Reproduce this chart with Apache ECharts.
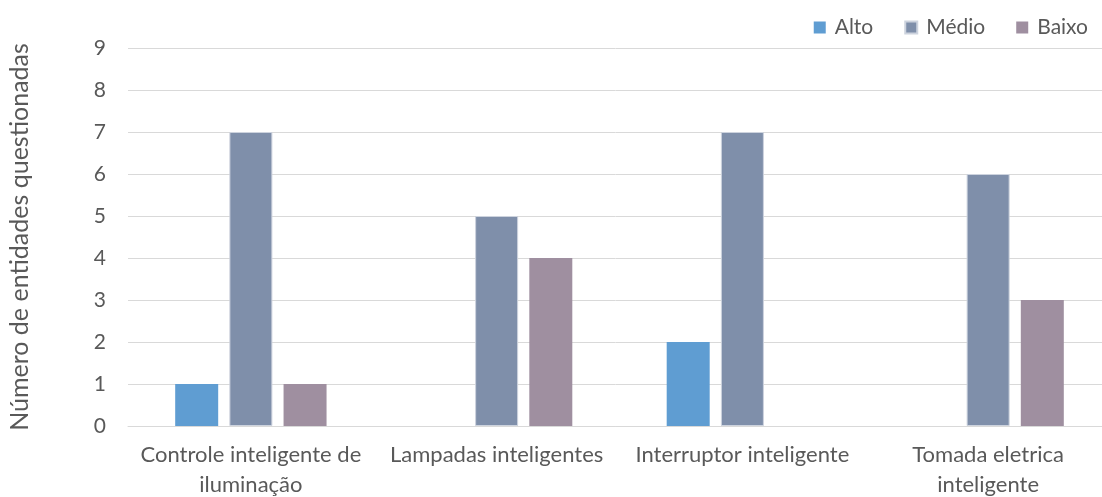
<!DOCTYPE html>
<html>
<head>
<meta charset="utf-8">
<script src="https://cdn.jsdelivr.net/npm/echarts@6/dist/echarts.min.js"></script>
<style>
  html, body { margin: 0; padding: 0; background: #fff; }
  #chart { width: 1102px; height: 497px; }
</style>
</head>
<body>
<div id="chart"></div>
<script>
const categorias = ['Controle inteligente de\niluminação', 'Lampadas inteligentes', 'Interruptor inteligente', 'Tomada eletrica\ninteligente'];
const alto = [1, null, 2, null];
const medio = [7, 5, 7, 6];
const baixo = [1, 4, null, 3];
const yTicks = [0, 9, 1]; // min, max, intervalo

const fonte = 'Lato, "Open Sans", sans-serif';
const cinza = '#595959';

const chart = echarts.init(document.getElementById('chart'), null, { renderer: 'canvas' });

chart.setOption({
    animation: false,
    textStyle: { fontFamily: fonte },
    legend: {
        right: 9,
        top: 12,
        icon: 'rect',
        itemWidth: 12,
        itemHeight: 12,
        itemGap: 31,
        textStyle: { color: cinza, fontSize: 21, fontFamily: fonte, padding: [0, 0, 0, 4] },
        data: ['Alto', 'Médio', 'Baixo']
    },
    grid: {
        left: 128,
        top: 48,
        width: 983,
        height: 378,
        containLabel: false,
        outerBoundsMode: 'none'
    },
    xAxis: {
        type: 'category',
        data: categorias,
        axisLine: { lineStyle: { color: '#d9d9d9', width: 1 } },
        axisTick: { show: false },
        axisLabel: {
            color: cinza,
            fontSize: 22,
            fontFamily: fonte,
            margin: 14,
            lineHeight: 30,
            interval: 0
        }
    },
    yAxis: {
        type: 'value',
        min: yTicks[0],
        max: yTicks[1],
        interval: yTicks[2],
        name: 'Número de entidades questionadas',
        nameLocation: 'middle',
        nameGap: 96,
        nameTextStyle: { color: cinza, fontSize: 25, fontFamily: fonte },
        axisLine: { show: false },
        axisTick: { show: false },
        axisLabel: { color: cinza, fontSize: 21, fontFamily: fonte, margin: 22 },
        splitLine: { lineStyle: { color: '#d9d9d9', width: 1 } }
    },
    series: [
        {
            name: 'Alto',
            type: 'bar',
            data: alto,
            barWidth: 43,
            barGap: '26%',
            itemStyle: { color: '#5f9dd2' }
        },
        {
            name: 'Médio',
            type: 'bar',
            data: medio,
            barWidth: 43,
            barGap: '26%',
            itemStyle: { color: '#7f8faa', borderColor: '#cdd3de', borderWidth: 1 }
        },
        {
            name: 'Baixo',
            type: 'bar',
            data: baixo,
            barWidth: 43,
            barGap: '26%',
            itemStyle: { color: '#9f8fa0' }
        }
    ]
});
</script>
</body>
</html>
